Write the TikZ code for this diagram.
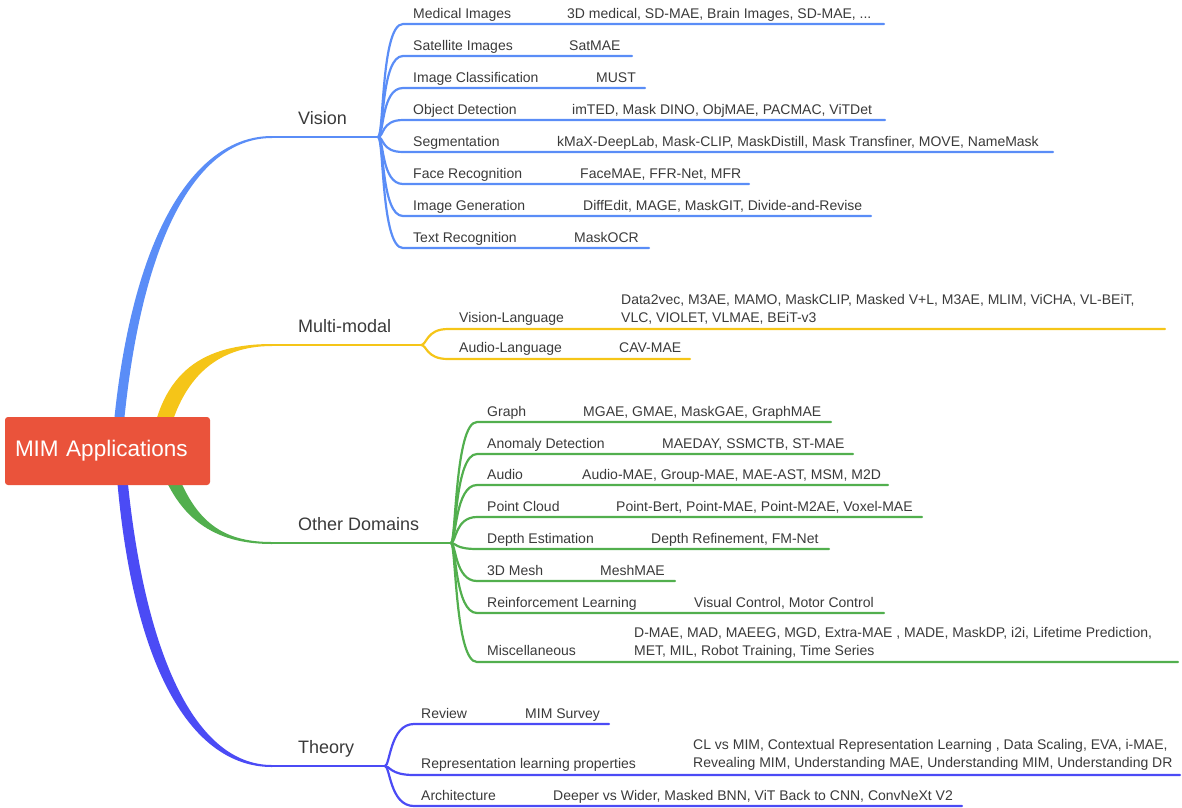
\documentclass[tikz,border=0pt]{standalone}
\usepackage{fontspec}
\setmainfont{Liberation Sans}

\definecolor{rootred}{HTML}{EA533B}
\definecolor{visblue}{HTML}{5A8DF7}
\definecolor{mmyellow}{HTML}{F5C518}
\definecolor{odgreen}{HTML}{52AF4E}
\definecolor{thpurple}{HTML}{4B4BF5}
\definecolor{txtgray}{HTML}{3A3A3A}

\tikzset{
	root/.style={fill=rootred, rounded corners=3, text=white, inner xsep=10, inner ysep=0,
			text width=185, align=left, minimum height=68, font=\fontsize{22.5}{24}\selectfont},
	topic/.style={anchor=base west, inner sep=0, text=txtgray, font=\fontsize{18}{20}\selectfont},
	sub/.style={anchor=base west, inner sep=0, text=txtgray, font=\fontsize{14}{18}\selectfont},
	leaf/.style={sub, align=left},
	twig/.style={line width=2.2, line cap=round},
}

\begin{document}
\begin{tikzpicture}[x=1pt, y=-1pt]
		\useasboundingbox (0, 0) rectangle (1182, 807);

		\coordinate (rc) at (107.5, 451);

		% first level
		\coordinate (visa) at (272, 137);
		\coordinate (visf) at (378, 137);
		\coordinate (mma) at (272, 345);
		\coordinate (mmf) at (421, 345);
		\coordinate (oda) at (272, 543);
		\coordinate (odf) at (451, 543);
		\coordinate (tha) at (272, 766);
		\coordinate (thf) at (385, 766);

		\fill[visblue] ([xshift=4]rc) .. controls +(15, -206) and +(-82, 0) .. ([yshift=1]visa)
			-- ([yshift=-1]visa) .. controls +(-80, 0) and +(15, -201) .. ([xshift=14]rc) -- cycle;
		\fill[thpurple] ([xshift=7.5]rc) .. controls +(13, 209) and +(-84, 0) .. ([yshift=-1]tha)
			-- ([yshift=1]tha) .. controls +(-80, 0) and +(15, 194) .. ([xshift=17.5]rc) -- cycle;
		\fill[mmyellow] ([xshift=42.5]rc) .. controls +(10, -81) and +(-67, 0) .. ([yshift=1]mma)
			-- ([yshift=-1]mma) .. controls +(-57, 0) and +(13, -71) .. ([xshift=57.5]rc) -- cycle;
		\fill[odgreen] ([xshift=47.5]rc) .. controls +(20, 69) and +(-57, 0) .. ([yshift=-1]oda)
			-- ([yshift=1]oda) .. controls +(-52, 0) and +(20, 69) .. ([xshift=62.5]rc) -- cycle;

		\draw[twig, visblue] (visa) -- (visf);
		\draw[twig, mmyellow] (mma) -- (mmf);
		\draw[twig, odgreen] (oda) -- (odf);
		\draw[twig, thpurple] (tha) -- (thf);

		\node[root] (root) at (rc) {MIM Applications};

		\node[topic] (vis) at (298, 124) {Vision};
		\node[topic] (mm) at (298, 332) {Multi-modal};
		\node[topic] (od) at (298, 530) {Other Domains};
		\node[topic] (th) at (298, 753) {Theory};

		% Vision
		\coordinate (vs1) at (403, 24);   \coordinate (ve1) at (884, 24);
		\coordinate (vs2) at (403, 56);   \coordinate (ve2) at (632, 56);
		\coordinate (vs3) at (403, 88);   \coordinate (ve3) at (645, 88);
		\coordinate (vs4) at (403, 120);  \coordinate (ve4) at (885, 120);
		\coordinate (vs5) at (403, 152);  \coordinate (ve5) at (1053, 152);
		\coordinate (vs6) at (403, 184);  \coordinate (ve6) at (749, 184);
		\coordinate (vs7) at (403, 216);  \coordinate (ve7) at (871, 216);
		\coordinate (vs8) at (403, 248);  \coordinate (ve8) at (649, 248);

		\foreach \i in {1, ..., 8}{
				\draw[twig, visblue] (visf) .. controls +(6, 0) and +(-22, 0) .. (vs\i) -- (ve\i);
			}

		\node[sub] (v1) at (413, 18) {Medical Images};
		\node[sub] (v2) at (413, 50) {Satellite Images};
		\node[sub] (v3) at (413, 82) {Image Classification};
		\node[sub] (v4) at (413, 114) {Object Detection};
		\node[sub] (v5) at (413, 146) {Segmentation};
		\node[sub] (v6) at (413, 178) {Face Recognition};
		\node[sub] (v7) at (413, 210) {Image Generation};
		\node[sub] (v8) at (413, 242) {Text Recognition};

		\node[leaf] (vl1) at (567, 18) {3D medical, SD-MAE, Brain Images, SD-MAE, ...};
		\node[leaf] (vl2) at (569, 50) {SatMAE};
		\node[leaf] (vl3) at (596, 82) {MUST};
		\node[leaf] (vl4) at (572, 114) {imTED, Mask DINO, ObjMAE, PACMAC, ViTDet};
		\node[leaf] (vl5) at (557, 146) {kMaX-DeepLab, Mask-CLIP, MaskDistill, Mask Transfiner, MOVE, NameMask};
		\node[leaf] (vl6) at (580, 178) {FaceMAE, FFR-Net, MFR};
		\node[leaf] (vl7) at (583, 210) {DiffEdit, MAGE, MaskGIT, Divide-and-Revise};
		\node[leaf] (vl8) at (574, 242) {MaskOCR};

		% Multi-modal
		\coordinate (ms1) at (448, 329);  \coordinate (me1) at (1165, 329);
		\coordinate (ms2) at (448, 359);  \coordinate (me2) at (690, 359);

		\foreach \i in {1, 2}{
				\draw[twig, mmyellow] (mmf) .. controls +(6, 0) and +(-22, 0) .. (ms\i) -- (me\i);
			}

		\node[sub] (m1) at (459, 322) {Vision-Language};
		\node[sub] (m2) at (459, 352) {Audio-Language};

		\node[leaf] (ml1) at (621, 322) {Data2vec, M3AE, MAMO, MaskCLIP, Masked V+L, M3AE, MLIM, ViCHA, VL-BEiT,\\VLC, VIOLET, VLMAE, BEiT-v3};
		\node[leaf] (ml2) at (619, 352) {CAV-MAE};

		% Other Domains
		\coordinate (os1) at (477, 422);  \coordinate (oe1) at (831, 422);
		\coordinate (os2) at (477, 454);  \coordinate (oe2) at (853, 454);
		\coordinate (os3) at (477, 485);  \coordinate (oe3) at (888, 485);
		\coordinate (os4) at (477, 517);  \coordinate (oe4) at (922, 517);
		\coordinate (os5) at (477, 549);  \coordinate (oe5) at (829, 549);
		\coordinate (os6) at (477, 581);  \coordinate (oe6) at (675, 581);
		\coordinate (os7) at (477, 613);  \coordinate (oe7) at (884, 613);
		\coordinate (os8) at (477, 662);  \coordinate (oe8) at (1178, 662);

		\foreach \i in {1, ..., 8}{
				\draw[twig, odgreen] (odf) .. controls +(5, 0) and +(-22, 0) .. (os\i) -- (oe\i);
			}

		\node[sub] (o1) at (487, 416) {Graph};
		\node[sub] (o2) at (487, 448) {Anomaly Detection};
		\node[sub] (o3) at (487, 479) {Audio};
		\node[sub] (o4) at (487, 511) {Point Cloud};
		\node[sub] (o5) at (487, 543) {Depth Estimation};
		\node[sub] (o6) at (487, 575) {3D Mesh};
		\node[sub] (o7) at (487, 607) {Reinforcement Learning};
		\node[sub] (o8) at (487, 655) {Miscellaneous};

		\node[leaf] (ol1) at (583, 416) {MGAE, GMAE, MaskGAE, GraphMAE};
		\node[leaf] (ol2) at (662, 448) {MAEDAY, SSMCTB, ST-MAE};
		\node[leaf] (ol3) at (582, 479) {Audio-MAE, Group-MAE, MAE-AST, MSM, M2D};
		\node[leaf] (ol4) at (616, 511) {Point-Bert, Point-MAE, Point-M2AE, Voxel-MAE};
		\node[leaf] (ol5) at (651, 543) {Depth Refinement, FM-Net};
		\node[leaf] (ol6) at (600, 575) {MeshMAE};
		\node[leaf] (ol7) at (694, 607) {Visual Control, Motor Control};
		\node[leaf] (ol8) at (634, 655) {D-MAE, MAD, MAEEG, MGD, Extra-MAE , MADE, MaskDP, i2i, Lifetime Prediction,\\MET, MIL, Robot Training, Time Series};

		% Theory
		\coordinate (ts1) at (414, 724);  \coordinate (te1) at (609, 724);
		\coordinate (ts2) at (414, 775);  \coordinate (te2) at (1180, 775);
		\coordinate (ts3) at (414, 806);  \coordinate (te3) at (962, 806);

		\foreach \i in {1, 2, 3}{
				\draw[twig, thpurple] (thf) .. controls +(5, 0) and +(-24, 0) .. (ts\i) -- (te\i);
			}

		\node[sub] (t1) at (421, 718) {Review};
		\node[sub] (t2) at (421, 768) {Representation learning properties};
		\node[sub] (t3) at (421, 800) {Architecture};

		\node[leaf] (tl1) at (525, 718) {MIM Survey};
		\node[leaf] (tl2) at (693, 767) {CL vs MIM, Contextual Representation Learning , Data Scaling, EVA, i-MAE,\\Revealing MIM, Understanding MAE, Understanding MIM, Understanding DR};
		\node[leaf] (tl3) at (553, 800) {Deeper vs Wider, Masked BNN, ViT Back to CNN, ConvNeXt V2};
	\end{tikzpicture}
\end{document}
